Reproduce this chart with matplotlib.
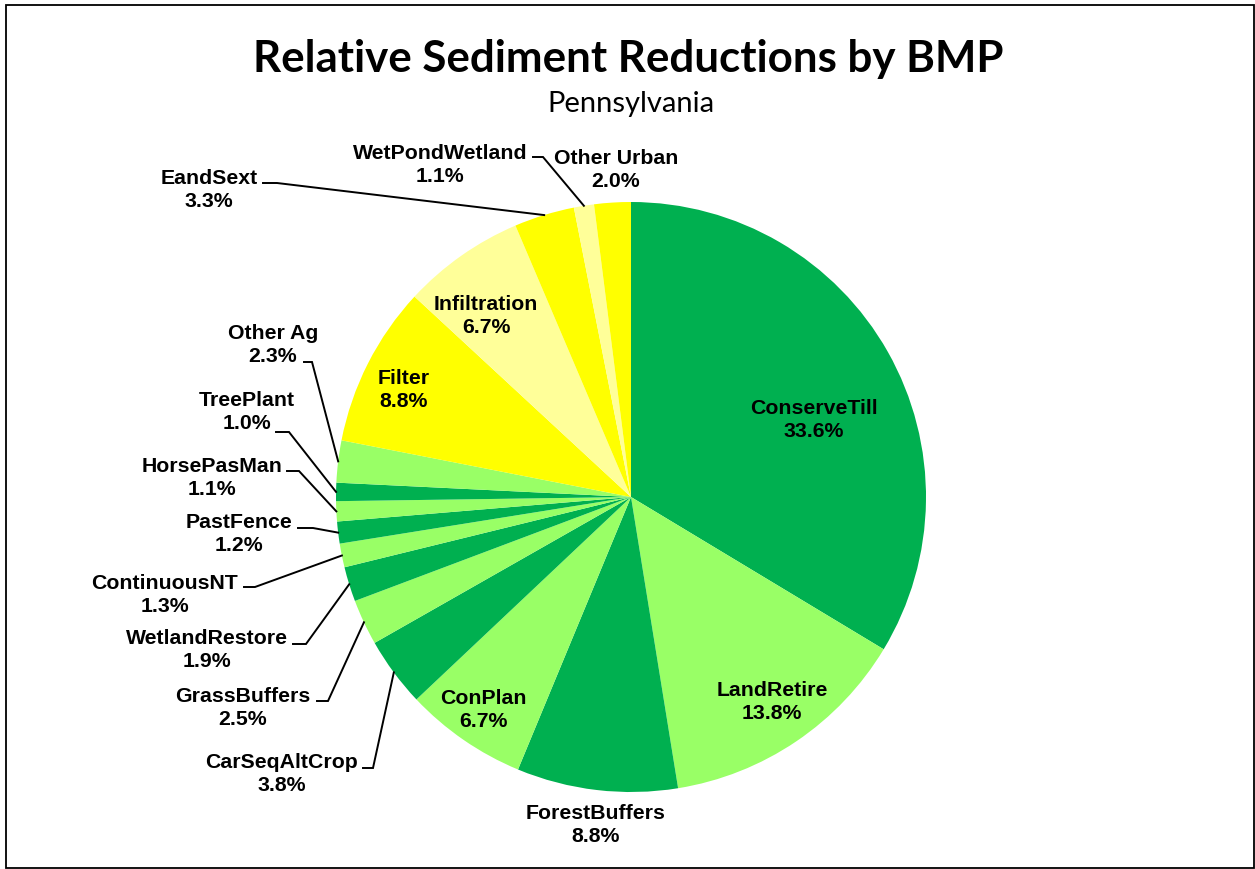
import numpy as np
import matplotlib
matplotlib.use("Agg")
import matplotlib.pyplot as plt
from matplotlib.patches import Rectangle

# ---- data ----
labels = ["ConserveTill", "LandRetire", "ForestBuffers", "ConPlan", "CarSeqAltCrop",
          "GrassBuffers", "WetlandRestore", "ContinuousNT", "PastFence", "HorsePasMan",
          "TreePlant", "Other Ag", "Filter", "Infiltration", "EandSext",
          "WetPondWetland", "Other Urban"]
values = [33.6, 13.8, 8.8, 6.7, 3.8, 2.5, 1.9, 1.3, 1.2, 1.1, 1.0, 2.3, 8.8, 6.7, 3.3, 1.1, 2.0]

DG, LG, YE, LY = "#00B050", "#99FF66", "#FFFF00", "#FFFF99"
colors = [DG, LG, DG, LG, DG, LG, DG, LG, DG, LG, DG, LG, YE, LY, YE, LY, YE]

title = "Relative Sediment Reductions by BMP"
subtitle = "Pennsylvania"

# ---- layout (pixel coords, origin top-left) ----
W, H = 1255, 869
CX, CY, R = 631, 497, 295

# label text centre; optional leader: (elbow_x, y, end_x)
layout = {
    "ConserveTill": ((814, 420), None),
    "LandRetire": ((772, 702), None),
    "ForestBuffers": ((596, 825), None),
    "ConPlan": ((483, 710), None),
    "CarSeqAltCrop": ((282, 774), (373, 768, 363)),
    "GrassBuffers": ((243, 708), (328, 701, 317)),
    "WetlandRestore": ((207, 650), (306, 644, 293)),
    "ContinuousNT": ((165, 595), (255, 587, 244)),
    "PastFence": ((239, 534), (313, 528, 298)),
    "HorsePasMan": ((212, 478), (299, 471, 287)),
    "TreePlant": ((247, 412), (289, 432, 276)),
    "Other Ag": ((273, 345), (312, 362, 304)),
    "Filter": ((404, 390), None),
    "Infiltration": ((486, 316), None),
    "EandSext": ((209, 190), (277, 183, 263)),
    "WetPondWetland": ((440, 165), (543, 157, 533)),
    "Other Urban": ((616, 170), None),
}

def Y(y):
    return H - y

fig = plt.figure(figsize=(W / 100, H / 100), dpi=100)
ax = fig.add_axes([0, 0, 1, 1])
ax.set_xlim(0, W)
ax.set_ylim(0, H)
ax.set_aspect("equal")
ax.axis("off")

wedges, _ = ax.pie(values, colors=colors, startangle=90, counterclock=False,
                   center=(CX, Y(CY)), radius=R, frame=True,
                   wedgeprops=dict(linewidth=0, antialiased=True))
ax.set_xlim(0, W)
ax.set_ylim(0, H)
ax.axis("off")

lab_font = dict(family="Liberation Sans", weight="bold", fontsize=15.3)
for w, lab, v in zip(wedges, labels, values):
    (tx, ty), leader = layout[lab]
    ax.text(tx, Y(ty), f"{lab}\n{v:.1f}%", ha="center", va="center", ma="center",
            linespacing=1.3, color="black", **lab_font)
    if leader is not None:
        ang = np.deg2rad((w.theta1 + w.theta2) / 2)
        px = w.center[0] + R * np.cos(ang)
        py = w.center[1] + R * np.sin(ang)
        ex, ey, endx = leader
        ax.plot([px, ex, endx], [py, Y(ey), Y(ey)], color="black", lw=1.4,
                solid_joinstyle="miter")

ax.text(628, Y(59), title, ha="center", va="center", family="Lato",
        weight="bold", fontsize=31.6)
ax.text(631, Y(104), subtitle, ha="center", va="center", family="Lato",
        fontsize=21)

ax.add_patch(Rectangle((6, Y(868)), 1248, 863, fill=False, edgecolor="black",
                       lw=1.3, clip_on=False))

fig.savefig("out.png", dpi=100, facecolor="white")
